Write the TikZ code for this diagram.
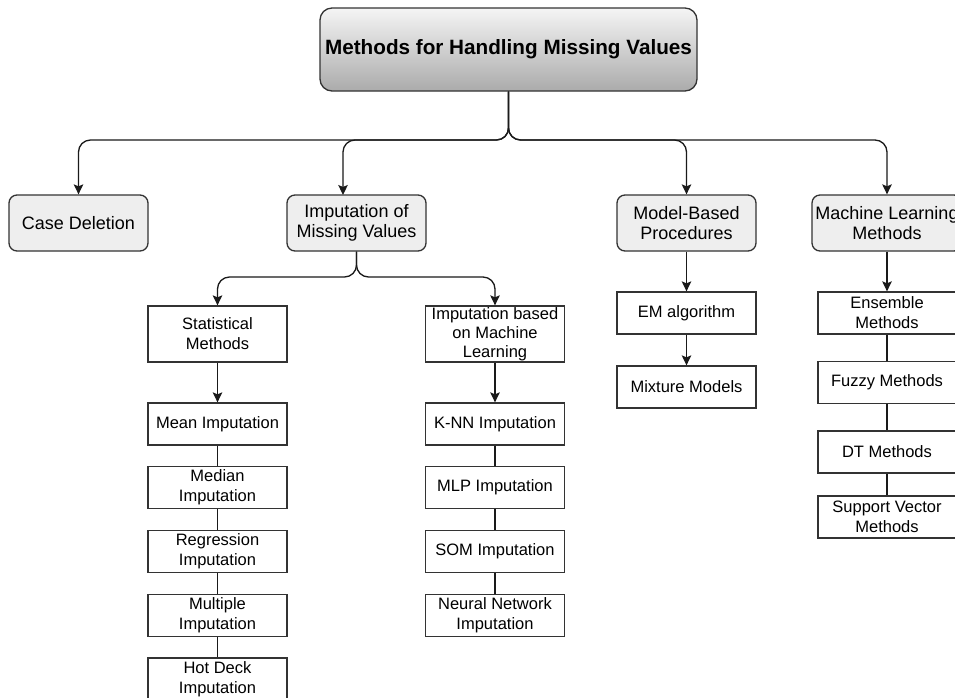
\documentclass[tikz,border=0pt]{standalone}
\usepackage{fontspec}
\setmainfont{Liberation Sans}
\usetikzlibrary{arrows.meta}
\definecolor{edge}{HTML}{1A1A1A}
\definecolor{boxline}{HTML}{333333}
\definecolor{lvfill}{HTML}{EEEEEE}
\begin{document}
\begin{tikzpicture}[x=1pt,y=1pt,
  box/.style={draw=boxline, line width=1.3pt, rectangle, inner sep=0pt, align=center, minimum width=139pt},
  lvtwo/.style={box, rounded corners=8pt, fill=lvfill, minimum height=56pt, font=\fontsize{18}{20}\selectfont},
  lvthree/.style={box, fill=white, minimum height=42pt, font=\fontsize{16.5}{20}\selectfont},
  conn/.style={line width=1.3pt, draw=edge, rounded corners=12pt},
  arr/.style={conn, -{Stealth[length=10pt,width=9.5pt,inset=2pt]}},
]
\useasboundingbox (0,0) rectangle (955,-697);
\clip (0,0) rectangle (955,-697);
\fill[white] (0,0) rectangle (955,-697);

% root
\node[draw=boxline, line width=1.3pt, rounded corners=12pt, top color=black!4, bottom color=black!33,
      minimum width=377pt, minimum height=83pt, inner sep=0pt,
      font=\bfseries\fontsize{20.7}{24}\selectfont] (root) at (508.5,-49.5) {Methods for Handling Missing Values};

% level 2
\node[lvtwo] (case) at (78.5,-223) {Case Deletion};
\node[lvtwo] (imv) at (356.5,-223) {Imputation of\\Missing Values};
\node[lvtwo] (mbp) at (686.5,-223) {Model-Based\\Procedures};
\node[lvtwo, minimum width=150pt] (mlm) at (887,-223) {Machine Learning\\Methods};

% statistical branch
\node[box, fill=white, minimum height=56pt, font=\fontsize{16.5}{20}\selectfont] (stat) at (217.5,-334) {Statistical\\Methods};
\node[lvthree] (mean) at (217.5,-424) {Mean Imputation};
\node[lvthree] (median) at (217.5,-487.5) {Median\\Imputation};
\node[lvthree] (regr) at (217.5,-551.5) {Regression\\Imputation};
\node[lvthree] (mult) at (217.5,-615.5) {Multiple\\Imputation};
\node[lvthree] (hot) at (217.5,-679) {Hot Deck\\Imputation};

% ML imputation branch
\node[box, fill=white, minimum height=56pt, font=\fontsize{16.5}{19}\selectfont] (iml) at (495,-334) {Imputation based\\on Machine\\Learning};
\node[lvthree] (knn) at (495,-424) {K-NN Imputation};
\node[lvthree] (mlp) at (495,-487.5) {MLP Imputation};
\node[lvthree] (som) at (495,-551.5) {SOM Imputation};
\node[lvthree] (nn) at (495,-615.5) {Neural Network\\Imputation};

% model based
\node[lvthree] (em) at (686.5,-313) {EM algorithm};
\node[lvthree] (mix) at (686.5,-387) {Mixture Models};

% ML methods
\node[lvthree, minimum width=138pt] (ens) at (887,-313) {Ensemble\\Methods};
\node[lvthree, minimum width=138pt] (fuzzy) at (887,-382.5) {Fuzzy Methods};
\node[lvthree, minimum width=138pt] (dt) at (887,-452) {DT Methods};
\node[lvthree, minimum width=138pt] (svm) at (887,-517) {Support Vector\\Methods};

% connectors from root
\coordinate (jr) at (508.5,-140);
\coordinate (imvin) at (343,-195);
\draw[arr] (root.south) -- (jr) -| (case.north);
\draw[arr] (root.south) -- (jr) -| (imvin);
\draw[arr] (root.south) -- (jr) -| (mbp.north);
\draw[arr] (root.south) -- (jr) -| (mlm.north);

% connectors from imputation
\coordinate (js) at (356.5,-277);
\draw[arr] (imv.south) -- (js) -| (stat.north);
\draw[arr] (imv.south) -- (js) -| (iml.north);

% chains
\draw[arr] (stat) -- (mean);
\draw[conn] (mean) -- (median);
\draw[conn] (median) -- (regr);
\draw[conn] (regr) -- (mult);
\draw[conn] (mult) -- (hot);

\draw[arr] (iml) -- (knn);
\draw[conn] (knn) -- (mlp);
\draw[conn] (mlp) -- (som);
\draw[conn] (som) -- (nn);

\draw[arr] (mbp) -- (em);
\draw[arr] (em) -- (mix);

\draw[arr] (mlm) -- (ens);
\draw[conn] (ens) -- (fuzzy);
\draw[conn] (fuzzy) -- (dt);
\draw[conn] (dt) -- (svm);
\end{tikzpicture}
\end{document}
